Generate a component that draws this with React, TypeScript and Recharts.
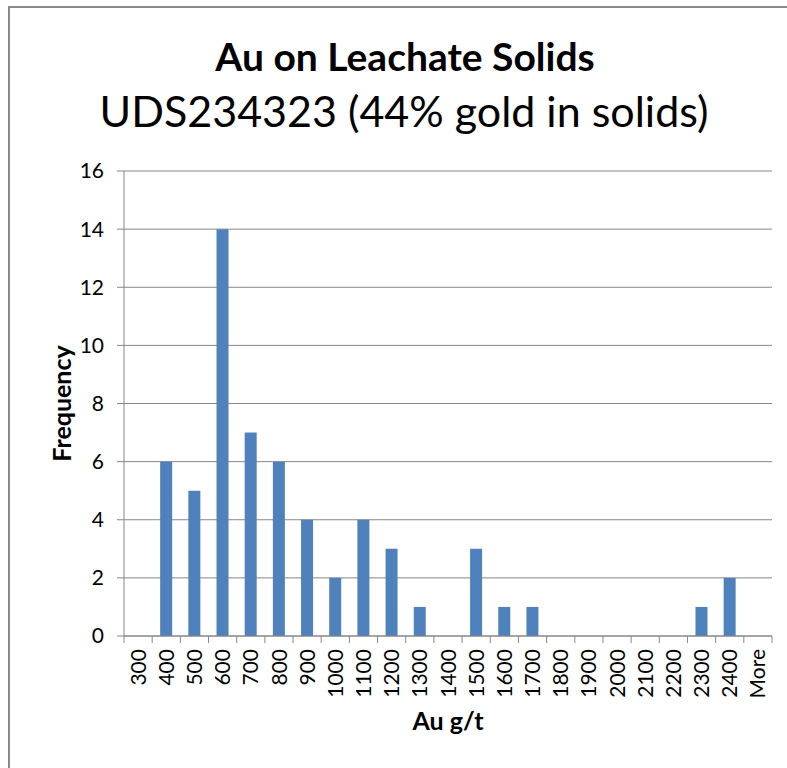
import { BarChart, Bar, XAxis, YAxis, CartesianGrid } from 'recharts';

const bins = ['300', '400', '500', '600', '700', '800', '900', '1000', '1100', '1200', '1300', '1400', '1500', '1600', '1700', '1800', '1900', '2000', '2100', '2200', '2300', '2400', 'More'];
const frequency = [0, 6, 5, 14, 7, 6, 4, 2, 4, 3, 1, 0, 3, 1, 1, 0, 0, 0, 0, 0, 1, 2, 0];
const yTicks = [0, 2, 4, 6, 8, 10, 12, 14, 16];

const data = bins.map((bin, i) => ({ bin, count: frequency[i] }));

const AXIS = '#868686';
const FONT = 'Lato, "Open Sans", sans-serif';
const PLOT_W = 648;

function BinTick(props: any) {
  const { x, y, payload, index } = props;
  const step = PLOT_W / bins.length;
  const axisY = y - 13;
  return (
    <g>
      <line x1={x - step / 2} y1={axisY} x2={x - step / 2} y2={axisY + 7} stroke={AXIS} />
      {index === bins.length - 1 && (
        <line x1={x + step / 2} y1={axisY} x2={x + step / 2} y2={axisY + 7} stroke={AXIS} />
      )}
      <text
        x={x}
        y={y}
        transform={`rotate(-90, ${x}, ${y})`}
        textAnchor="end"
        dy="0.36em"
        fontSize={21}
        fontFamily={FONT}
        fill="#000"
      >
        {payload.value}
      </text>
    </g>
  );
}

export default function App() {
  return (
    <div style={{ position: 'fixed', left: 0, top: 0, width: 787, height: 768, overflow: 'hidden', background: '#fff' }}>
      <div style={{ position: 'absolute', left: 8, top: 6, width: 800, height: 800, borderLeft: '2px solid #8a8a8a', borderTop: '2px solid #8a8a8a' }} />
      <div style={{ position: 'absolute', left: 0, top: 33, width: 810, textAlign: 'center', fontFamily: FONT, fontWeight: 'bold', fontSize: 39, lineHeight: '46px', color: '#000' }}>
        Au on Leachate Solids
      </div>
      <div style={{ position: 'absolute', left: 0, top: 85, width: 808, textAlign: 'center', fontFamily: FONT, fontSize: 43, lineHeight: '52px', color: '#000' }}>
        UDS234323 (44% gold in solids)
      </div>
      <div style={{ position: 'absolute', left: 0, top: 0 }}>
        <BarChart width={787} height={768} data={data} margin={{ top: 171, right: 15, bottom: 0, left: 0 }}>
          <CartesianGrid vertical={false} stroke={AXIS} strokeWidth={1} />
          <XAxis
            dataKey="bin"
            interval={0}
            height={132}
            axisLine={{ stroke: AXIS }}
            tickLine={false}
            tickSize={7}
            tickMargin={6}
            tick={<BinTick />}
            label={{ value: 'Au g/t', position: 'insideBottom', offset: 38, fontFamily: FONT, fontWeight: 'bold', fontSize: 25, fill: '#000' }}
          />
          <YAxis
            width={124}
            domain={[0, 16]}
            ticks={yTicks}
            interval={0}
            axisLine={{ stroke: AXIS }}
            tickLine={{ stroke: AXIS }}
            tickSize={7}
            tickMargin={13}
            tick={{ fontSize: 21, fontFamily: FONT, fill: '#000' }}
            label={{ value: 'Frequency', angle: -90, position: 'center', fontFamily: FONT, fontWeight: 'bold', fontSize: 25, fill: '#000' }}
          />
          <Bar dataKey="count" fill="#4F81BD" barSize={12} isAnimationActive={false} />
        </BarChart>
      </div>
    </div>
  );
}
